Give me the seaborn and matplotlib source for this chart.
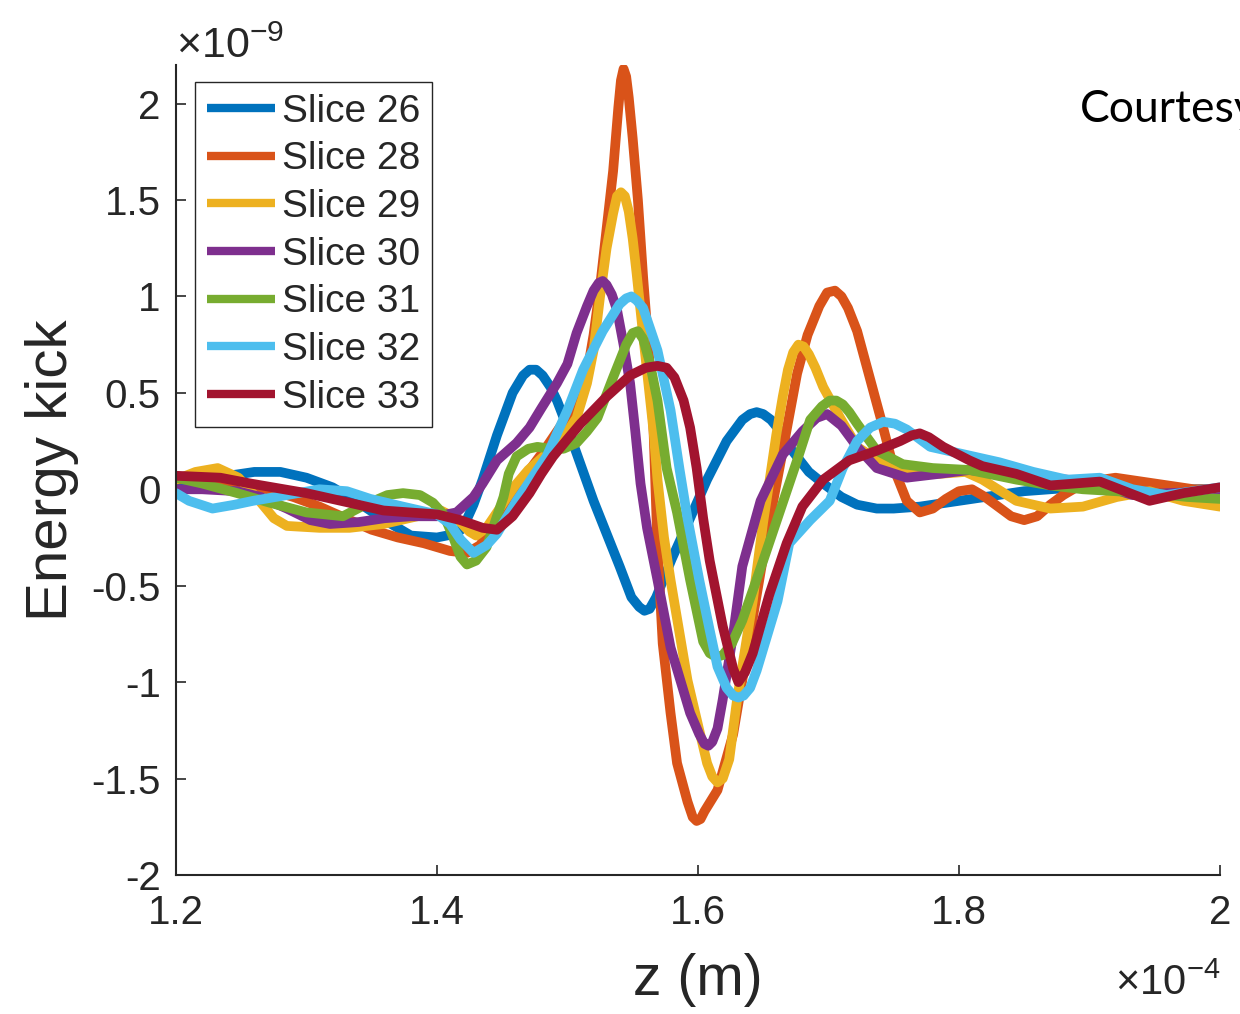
import pandas as pd
import seaborn as sns
import matplotlib.pyplot as plt

# series names and MATLAB default line colours
slices = ["Slice 26", "Slice 28", "Slice 29", "Slice 30", "Slice 31", "Slice 32", "Slice 33"]
colors = ["#0072BD", "#D95319", "#EDB120", "#7E2F8E", "#77AC30", "#4DBEEE", "#A2142F"]

# z in units of 1e-4 m, energy kick in units of 1e-9
z26 = [1.200, 1.220, 1.240, 1.260, 1.280, 1.300, 1.320, 1.340, 1.360, 1.380,
       1.400, 1.415, 1.420, 1.428, 1.435, 1.446, 1.458, 1.466, 1.471, 1.476,
       1.481, 1.487, 1.492, 1.500, 1.510, 1.520, 1.530, 1.540, 1.549, 1.555,
       1.559, 1.563, 1.568, 1.580, 1.594, 1.607, 1.622, 1.634, 1.640, 1.645,
       1.650, 1.656, 1.662, 1.670, 1.685, 1.696, 1.710, 1.722, 1.737, 1.750,
       1.770, 1.790, 1.810, 1.830, 1.850, 1.870, 1.890, 1.910, 1.930, 1.950,
       1.970, 2.000]
k26 = [0.03, 0.05, 0.07, 0.09, 0.09, 0.06, 0.01, -0.07, -0.16, -0.24,
       -0.25, -0.23, -0.20, -0.08, 0.05, 0.28, 0.50, 0.59, 0.62, 0.62,
       0.59, 0.53, 0.46, 0.32, 0.13, -0.06, -0.23, -0.40, -0.56, -0.61,
       -0.63, -0.62, -0.56, -0.36, -0.15, 0.05, 0.25, 0.36, 0.39, 0.40,
       0.39, 0.36, 0.31, 0.22, 0.09, 0.03, -0.04, -0.08, -0.10, -0.10,
       -0.09, -0.07, -0.05, -0.03, -0.01, 0.00, 0.01, 0.01, 0.00, 0.00,
       0.00, 0.00]

z28 = [1.200, 1.215, 1.230, 1.250, 1.270, 1.290, 1.310, 1.330, 1.350, 1.370, 1.390, 1.410,
       1.423, 1.433, 1.440, 1.448, 1.458, 1.471, 1.483, 1.497,
       1.507, 1.515, 1.520, 1.525, 1.530, 1.535, 1.539, 1.541, 1.543, 1.545, 1.547, 1.550,
       1.554, 1.558, 1.562, 1.566, 1.569, 1.573, 1.579, 1.584, 1.592, 1.596, 1.599, 1.602, 1.605,
       1.615, 1.627, 1.640, 1.653, 1.665, 1.676, 1.684, 1.693, 1.699, 1.705, 1.710, 1.715, 1.722,
       1.730, 1.740, 1.750, 1.760, 1.770, 1.780, 1.790, 1.800, 1.810, 1.820, 1.830, 1.840,
       1.850, 1.860, 1.870, 1.880, 1.890, 1.900,
       1.920, 1.940, 1.960, 1.980, 2.000]
k28 = [0.05, 0.06, 0.05, 0.03, 0.00, -0.04, -0.09, -0.15, -0.21, -0.25, -0.28, -0.32,
       -0.33, -0.29, -0.22, -0.12, -0.03, 0.10, 0.21, 0.35,
       0.42, 0.60, 0.80, 1.05, 1.35, 1.65, 1.98, 2.12, 2.18, 2.14, 2.03, 1.82,
       1.50, 1.10, 0.75, 0.30, -0.30, -0.80, -1.16, -1.42, -1.62, -1.70, -1.72, -1.71, -1.67,
       -1.56, -1.27, -0.75, -0.23, 0.20, 0.60, 0.80, 0.95, 1.02, 1.03, 1.00, 0.94, 0.82,
       0.62, 0.37, 0.11, -0.06, -0.12, -0.10, -0.05, -0.01, 0.00, -0.04, -0.09, -0.14,
       -0.16, -0.14, -0.08, -0.03, 0.01, 0.04,
       0.06, 0.04, 0.02, 0.00, 0.00]

z29 = [1.200, 1.215, 1.232, 1.248, 1.264, 1.275, 1.285, 1.310, 1.333, 1.359,
       1.385, 1.403, 1.415, 1.425, 1.430, 1.438, 1.450, 1.460, 1.470, 1.480,
       1.490, 1.500, 1.507, 1.515, 1.520, 1.525, 1.530, 1.535, 1.538, 1.541,
       1.544, 1.547, 1.550, 1.553, 1.558, 1.562, 1.566, 1.569, 1.574, 1.579,
       1.586, 1.592, 1.600, 1.607, 1.611, 1.615, 1.619, 1.624, 1.630, 1.642,
       1.650, 1.655, 1.660, 1.665, 1.669, 1.673, 1.677, 1.681, 1.685, 1.690,
       1.696, 1.709, 1.722, 1.747, 1.785, 1.805, 1.818, 1.844, 1.870, 1.895,
       1.921, 1.946, 1.972, 2.000]
k29 = [0.05, 0.09, 0.11, 0.06, -0.06, -0.15, -0.19, -0.20, -0.20, -0.18,
       -0.14, -0.11, -0.15, -0.22, -0.24, -0.20, -0.08, 0.02, 0.10, 0.16,
       0.22, 0.30, 0.37, 0.55, 0.72, 1.00, 1.25, 1.43, 1.52, 1.54,
       1.52, 1.44, 1.30, 1.12, 0.80, 0.55, 0.30, 0.05, -0.25, -0.47,
       -0.75, -0.99, -1.22, -1.42, -1.49, -1.52, -1.50, -1.40, -1.09, -0.58,
       -0.17, 0.05, 0.28, 0.48, 0.62, 0.71, 0.75, 0.74, 0.70, 0.63,
       0.53, 0.37, 0.22, 0.11, 0.08, 0.09, 0.05, -0.06, -0.10, -0.09,
       -0.04, -0.01, -0.06, -0.09]

z30 = [1.200, 1.220, 1.247, 1.265, 1.285, 1.303, 1.318, 1.340, 1.360, 1.380,
       1.400, 1.415, 1.428, 1.435, 1.446, 1.461, 1.471, 1.480, 1.492, 1.500,
       1.507, 1.515, 1.520, 1.524, 1.527, 1.530, 1.534, 1.538, 1.543, 1.548,
       1.552, 1.556, 1.561, 1.569, 1.579, 1.594, 1.601, 1.605, 1.608, 1.611,
       1.615, 1.619, 1.627, 1.634, 1.648, 1.665, 1.680, 1.691, 1.699, 1.710,
       1.722, 1.737, 1.760, 1.785, 1.808, 1.830, 1.850, 1.883, 1.910, 1.933,
       1.960, 2.000]
k30 = [0.00, 0.00, -0.01, -0.04, -0.10, -0.16, -0.18, -0.17, -0.15, -0.14,
       -0.14, -0.12, -0.04, 0.03, 0.15, 0.24, 0.32, 0.42, 0.55, 0.65,
       0.81, 0.95, 1.03, 1.07, 1.08, 1.06, 1.01, 0.93, 0.75, 0.55,
       0.30, 0.03, -0.20, -0.47, -0.82, -1.16, -1.27, -1.32, -1.33, -1.31,
       -1.24, -1.09, -0.75, -0.40, -0.06, 0.18, 0.30, 0.37, 0.39, 0.33,
       0.22, 0.11, 0.06, 0.08, 0.10, 0.08, 0.06, 0.05, 0.02, -0.03,
       -0.02, -0.01]

z31 = [1.200, 1.220, 1.247, 1.272, 1.300, 1.328, 1.345, 1.362, 1.374, 1.387,
       1.397, 1.405, 1.412, 1.418, 1.423, 1.430, 1.438, 1.451, 1.455, 1.461,
       1.470, 1.477, 1.487, 1.497, 1.507, 1.515, 1.523, 1.535, 1.545, 1.550,
       1.554, 1.558, 1.563, 1.569, 1.576, 1.584, 1.594, 1.604, 1.609, 1.614,
       1.619, 1.626, 1.634, 1.650, 1.663, 1.676, 1.686, 1.695, 1.701, 1.706,
       1.711, 1.716, 1.722, 1.737, 1.757, 1.780, 1.808, 1.844, 1.870, 1.895,
       1.920, 1.946, 1.975, 2.000]
k31 = [0.06, 0.03, -0.02, -0.07, -0.12, -0.14, -0.08, -0.03, -0.02, -0.03,
       -0.07, -0.13, -0.24, -0.35, -0.39, -0.37, -0.30, -0.04, 0.08, 0.17,
       0.21, 0.22, 0.21, 0.21, 0.24, 0.30, 0.37, 0.58, 0.75, 0.81,
       0.82, 0.78, 0.66, 0.46, 0.11, -0.12, -0.47, -0.79, -0.85, -0.87,
       -0.86, -0.80, -0.68, -0.37, -0.11, 0.15, 0.36, 0.43, 0.46, 0.46,
       0.44, 0.40, 0.34, 0.20, 0.13, 0.11, 0.10, 0.05, 0.02, 0.00,
       -0.01, -0.02, -0.04, -0.05]

z32 = [1.200, 1.210, 1.228, 1.245, 1.259, 1.285, 1.310, 1.331, 1.349, 1.374,
       1.400, 1.410, 1.418, 1.428, 1.438, 1.446, 1.461, 1.475, 1.484, 1.500,
       1.512, 1.527, 1.540, 1.545, 1.549, 1.553, 1.558, 1.569, 1.579, 1.586,
       1.592, 1.601, 1.609, 1.615, 1.622, 1.627, 1.631, 1.635, 1.640, 1.645,
       1.661, 1.670, 1.686, 1.701, 1.711, 1.722, 1.732, 1.742, 1.751, 1.760,
       1.778, 1.798, 1.831, 1.857, 1.883, 1.908, 1.933, 1.959, 2.000]
k32 = [-0.02, -0.06, -0.10, -0.08, -0.06, -0.03, 0.00, -0.01, -0.05, -0.09,
       -0.13, -0.18, -0.26, -0.33, -0.29, -0.23, -0.06, 0.08, 0.17, 0.41,
       0.62, 0.82, 0.96, 0.99, 1.00, 0.98, 0.94, 0.72, 0.41, 0.10,
       -0.15, -0.47, -0.73, -0.92, -1.03, -1.07, -1.08, -1.07, -1.03, -0.94,
       -0.58, -0.28, -0.16, -0.06, 0.11, 0.25, 0.32, 0.35, 0.34, 0.31,
       0.22, 0.19, 0.14, 0.09, 0.05, 0.06, 0.00, -0.03, 0.01]

z33 = [1.200, 1.234, 1.257, 1.300, 1.333, 1.359, 1.379, 1.400, 1.418, 1.435,
       1.446, 1.458, 1.471, 1.480, 1.489, 1.500, 1.510, 1.530, 1.548, 1.560,
       1.569, 1.576, 1.582, 1.589, 1.594, 1.599, 1.604, 1.609, 1.619, 1.627,
       1.631, 1.636, 1.642, 1.655, 1.668, 1.680, 1.696, 1.716, 1.737, 1.755,
       1.764, 1.770, 1.777, 1.788, 1.808, 1.818, 1.844, 1.870, 1.908, 1.946,
       1.972, 2.000]
k33 = [0.07, 0.06, 0.03, -0.02, -0.07, -0.11, -0.12, -0.13, -0.16, -0.20,
       -0.21, -0.14, -0.02, 0.08, 0.17, 0.26, 0.34, 0.48, 0.59, 0.63,
       0.64, 0.63, 0.58, 0.46, 0.32, 0.11, -0.15, -0.37, -0.71, -0.93,
       -1.00, -0.95, -0.85, -0.54, -0.28, -0.09, 0.05, 0.15, 0.20, 0.25,
       0.28, 0.29, 0.27, 0.22, 0.15, 0.12, 0.08, 0.02, 0.04, -0.06,
       -0.02, 0.01]

xticks = [1.2, 1.4, 1.6, 1.8, 2.0]
xtick_labels = ["1.2", "1.4", "1.6", "1.8", "2"]
yticks = [-2, -1.5, -1, -0.5, 0, 0.5, 1, 1.5, 2]
ytick_labels = ["-2", "-1.5", "-1", "-0.5", "0", "0.5", "1", "1.5", "2"]

sns.set_style("ticks")
plt.rcParams["font.family"] = ["Liberation Sans", "DejaVu Sans"]
plt.rcParams["axes.unicode_minus"] = False
plt.rcParams["mathtext.fontset"] = "custom"
plt.rcParams["mathtext.rm"] = "Liberation Sans"
plt.rcParams["mathtext.default"] = "regular"

# long-form table for seaborn
all_z = [z26, z28, z29, z30, z31, z32, z33]
all_k = [k26, k28, k29, k30, k31, k32, k33]
frames = [pd.DataFrame({"z": z, "kick": k, "slice": name})
          for name, z, k in zip(slices, all_z, all_k)]
df = pd.concat(frames, ignore_index=True)

fig = plt.figure(figsize=(12.4, 10.14), dpi=100)
ax = fig.add_axes([0.1419, 0.1371, 0.8419, 0.7988])

sns.lineplot(data=df, x="z", y="kick", hue="slice", hue_order=slices, palette=colors,
             estimator=None, sort=False, linewidth=7, solid_joinstyle="round", ax=ax)

ax.set_xlim(1.2, 2.0)
ax.set_ylim(-2, 2.2)
ax.set_xticks(xticks)
ax.set_xticklabels(xtick_labels)
ax.set_yticks(yticks)
ax.set_yticklabels(ytick_labels)

for side in ["top", "right"]:
    ax.spines[side].set_visible(False)
for side in ["left", "bottom"]:
    ax.spines[side].set_linewidth(1.5)
    ax.spines[side].set_color("#262626")

ax.tick_params(direction="in", length=7, width=1.2, labelsize=29, colors="#262626")
ax.tick_params(axis="x", pad=14)
ax.tick_params(axis="y", pad=11)

ax.set_xlabel("z (m)", fontsize=41, labelpad=15, color="#262626")
ax.set_ylabel("Energy kick", fontsize=42, labelpad=9, color="#262626")

# exponent markers, MATLAB style
ax.text(0.0, 1.0086, r"$\times10^{-9}$", transform=ax.transAxes, ha="left", va="baseline",
        fontsize=31, color="#262626")
ax.text(1.0, -0.148, r"$\times10^{-4}$", transform=ax.transAxes, ha="right", va="baseline",
        fontsize=30, color="#262626")

handles, labels = ax.get_legend_handles_labels()
leg = ax.legend(handles, labels, loc="upper left", bbox_to_anchor=(0.0182, 0.979),
                borderaxespad=0, fontsize=28, handlelength=1.75, handletextpad=0.2,
                labelspacing=0.30, borderpad=0.3, frameon=True, fancybox=False,
                edgecolor="#262626", framealpha=1)
leg.get_frame().set_linewidth(1.0)
for line in leg.get_lines():
    line.set_linewidth(6)
    line.set_solid_capstyle("butt")

fig.text(0.871, 0.8797, "Courtesy", fontsize=32, family="Lato", ha="left", va="baseline",
         color="black")

fig.savefig("out.png", dpi=100)
